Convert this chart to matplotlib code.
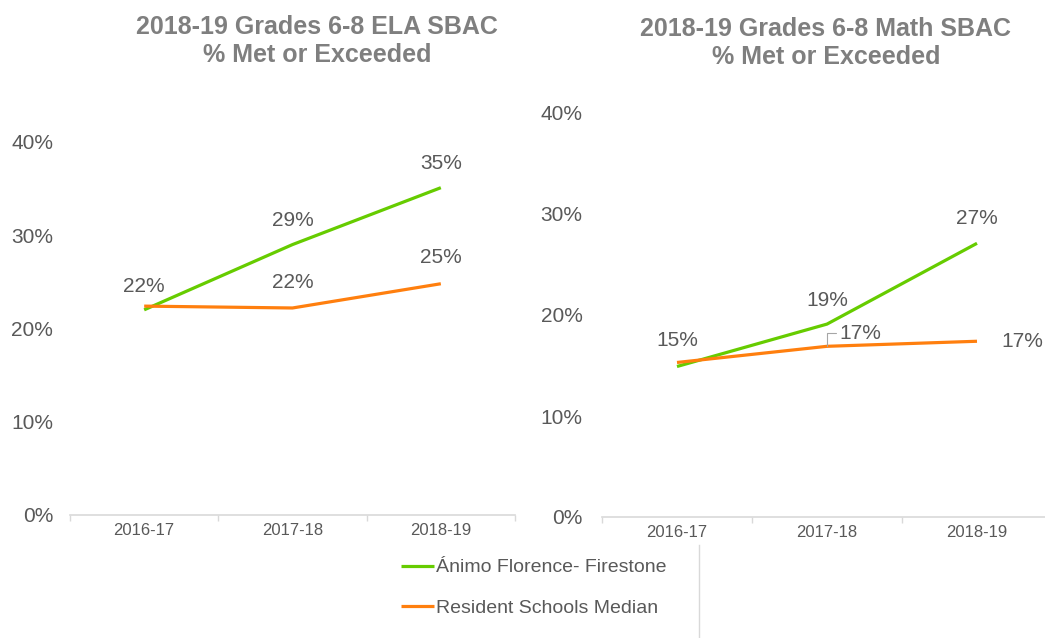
import matplotlib.pyplot as plt
from matplotlib.lines import Line2D
from matplotlib.ticker import FixedLocator, PercentFormatter

plt.rcParams['font.family'] = ['Liberation Sans', 'DejaVu Sans']

years = ['2016-17', '2017-18', '2018-19']
ela_animo = [22.0, 29.0, 35.1]
ela_resident = [22.4, 22.2, 24.8]
math_animo = [14.9, 19.1, 27.1]
math_resident = [15.3, 16.9, 17.4]

ela_title = '2018-19 Grades 6-8 ELA SBAC\n% Met or Exceeded'
math_title = '2018-19 Grades 6-8 Math SBAC\n% Met or Exceeded'
series_names = ['Ánimo Florence- Firestone', 'Resident Schools Median']

green = '#66cc00'
orange = '#ff7f0e'
label_col = '#595959'
title_col = '#7f7f7f'
axis_col = '#d9d9d9'

fig = plt.figure(figsize=(10.45, 6.38), dpi=100)
ax1 = fig.add_axes([70 / 1045, 123 / 638, 445 / 1045, 373 / 638])
ax2 = fig.add_axes([602 / 1045, 121 / 638, 450 / 1045, 404 / 638])

x = list(range(len(years)))


def style(ax, pad):
    ax.set_xlim(-0.5, 2.5)
    ax.set_ylim(0, 40)
    ax.set_yticks([0, 10, 20, 30, 40])
    ax.yaxis.set_major_formatter(PercentFormatter(decimals=0))
    ax.set_xticks(x)
    ax.set_xticklabels(years)
    ax.xaxis.set_minor_locator(FixedLocator([-0.5, 0.5, 1.5, 2.5]))
    ax.tick_params(axis='x', which='major', length=0, pad=6, labelsize=12, labelcolor=label_col)
    ax.tick_params(axis='x', which='minor', length=4, color=axis_col, width=1)
    ax.tick_params(axis='y', length=0, pad=pad, labelsize=15, labelcolor=label_col)
    for s in ['top', 'right', 'left']:
        ax.spines[s].set_visible(False)
    ax.spines['bottom'].set_color(axis_col)
    ax.spines['bottom'].set_linewidth(1.2)


def label(ax, xi, yi, txt, dx=0, dy=24, ha='center'):
    ax.annotate(txt, (xi, yi), xytext=(dx, dy), textcoords='offset pixels',
                ha=ha, va='center', fontsize=15, color=label_col)


style(ax1, 12)
style(ax2, 14)

l1, = ax1.plot(x, ela_animo, color=green, lw=2.3, solid_capstyle='butt')
l2, = ax1.plot(x, ela_resident, color=orange, lw=2.3, solid_capstyle='butt')
ax2.plot(x, math_animo, color=green, lw=2.3, solid_capstyle='butt')
ax2.plot(x, math_resident, color=orange, lw=2.3, solid_capstyle='butt')

# ELA labels
label(ax1, 0, ela_resident[0], f'{ela_resident[0]:.0f}%', dy=20)
label(ax1, 1, ela_animo[1], f'{ela_animo[1]:.0f}%')
label(ax1, 2, ela_animo[2], f'{ela_animo[2]:.0f}%')
label(ax1, 1, ela_resident[1], f'{ela_resident[1]:.0f}%', dy=25)
label(ax1, 2, ela_resident[2], f'{ela_resident[2]:.0f}%', dy=26)

# Math labels
label(ax2, 0, math_resident[0], f'{math_resident[0]:.0f}%', dy=22)
label(ax2, 1, math_animo[1], f'{math_animo[1]:.0f}%')
label(ax2, 2, math_animo[2], f'{math_animo[2]:.0f}%', dy=25)
ax2.annotate(f'{math_resident[1]:.0f}%', (1, math_resident[1]), xytext=(12, 13),
             textcoords='offset pixels', ha='left', va='center', fontsize=15, color=label_col,
             arrowprops=dict(arrowstyle='-', color='#a6a6a6', lw=0.8, shrinkA=0, shrinkB=0,
                             connectionstyle='angle,angleA=0,angleB=90,rad=0'))
label(ax2, 2, math_resident[2], f'{math_resident[2]:.0f}%', dx=24, dy=0, ha='left')

fig.text(317 / 1045, 1 - 41 / 638, ela_title, ha='center', va='center', fontsize=18,
         fontweight='bold', color=title_col, linespacing=1.25)
fig.text(826 / 1045, 1 - 43 / 638, math_title, ha='center', va='center', fontsize=18,
         fontweight='bold', color=title_col, linespacing=1.25)

fig.legend([l1, l2], series_names, loc='center left', bbox_to_anchor=(391 / 1045, 1 - 588 / 638),
           frameon=False, fontsize=14, labelcolor=label_col, handlelength=1.7,
           handletextpad=0.1, labelspacing=1.2, borderpad=0)

fig.add_artist(Line2D([699 / 1045, 699 / 1045], [0, 1 - 545 / 638], color=axis_col, lw=1))

fig.savefig('out.png', dpi=100)
